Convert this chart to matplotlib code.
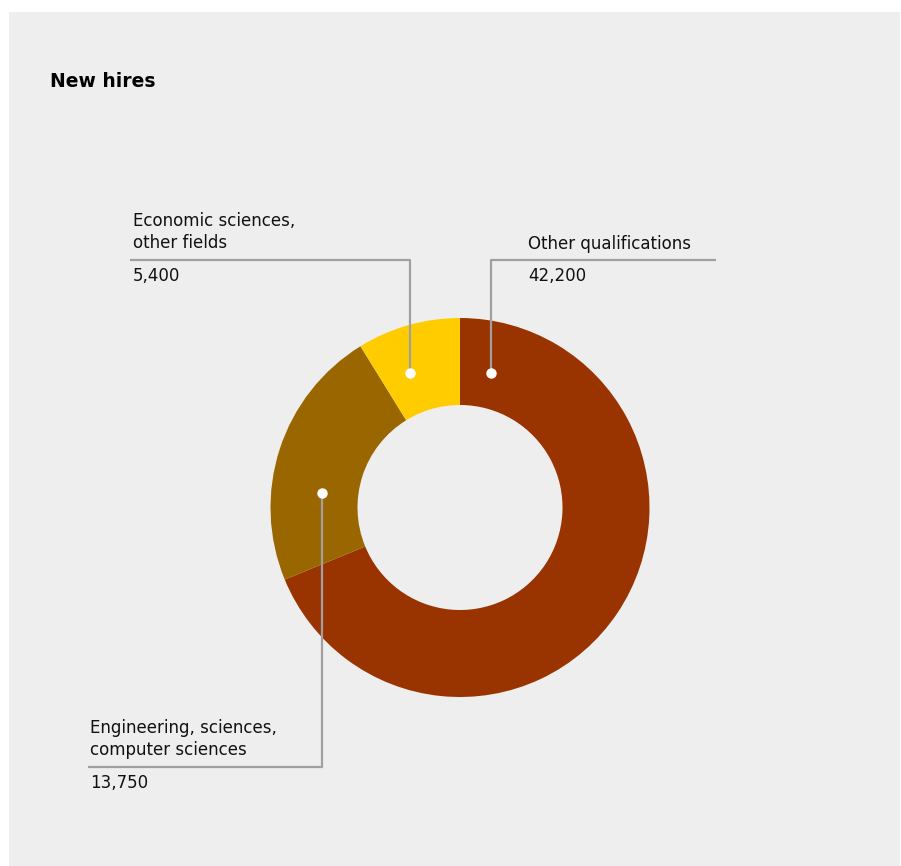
import matplotlib
matplotlib.use("Agg")
import matplotlib.pyplot as plt
from matplotlib.patches import Rectangle

# Data
categories = ["Other qualifications",
              "Engineering, sciences,\ncomputer sciences",
              "Economic sciences,\nother fields"]
values = [42200, 13750, 5400]
value_labels = ["42,200", "13,750", "5,400"]
colors = ["#993300", "#996600", "#FFCC00"]

W, H = 901, 866
fig = plt.figure(figsize=(W / 100, H / 100), dpi=100)
fig.patch.set_facecolor("white")
ax = fig.add_axes([0, 0, 1, 1])
ax.set_xlim(0, W)
ax.set_ylim(0, H)
ax.axis("off")


def Y(py):
    """Convert top-down pixel row to axes y."""
    return H - py


# grey panel
ax.add_patch(Rectangle((9, Y(866)), 891, 866 - 12, facecolor="#EEEEEE",
                       edgecolor="none", zorder=0))

ax.text(50, Y(87), "New hires", fontsize=13.5, fontweight="bold",
        ha="left", va="baseline", color="#000000")

# donut
cx, cy, R = 460, Y(507.5), 189.5
ax.pie(values, colors=colors, startangle=90, counterclock=False,
       center=(cx, cy), radius=R, frame=True,
       wedgeprops=dict(width=87, edgecolor="none", linewidth=0))
ax.set_xlim(0, W)
ax.set_ylim(0, H)
ax.set_aspect("equal")
ax.axis("off")

line_kw = dict(color="#A0A0A0", lw=1.6, zorder=3, solid_capstyle="butt")
dot_kw = dict(marker="o", ms=6.5, mfc="white", mec="white", zorder=4)
fs = 12
txt_kw = dict(fontsize=fs, ha="left", va="baseline", color="#111111",
              linespacing=1.3)

# Other qualifications leader
ax.plot([491, 491, 716], [Y(373), Y(260), Y(260)], **line_kw)
ax.plot([491], [Y(373)], **dot_kw)
ax.text(528, Y(249), categories[0], **txt_kw)
ax.text(528, Y(281), value_labels[0], **txt_kw)

# Economic sciences leader
ax.plot([410, 410, 130], [Y(373), Y(260), Y(260)], **line_kw)
ax.plot([410], [Y(373)], **dot_kw)
ax.text(133, Y(248), categories[2], **txt_kw)
ax.text(133, Y(281), value_labels[2], **txt_kw)

# Engineering leader
ax.plot([322, 322, 88], [Y(493), Y(767), Y(767)], **line_kw)
ax.plot([322], [Y(493)], **dot_kw)
ax.text(90, Y(755), categories[1], **txt_kw)
ax.text(90, Y(788), value_labels[1], **txt_kw)

fig.savefig("out.png", dpi=100, facecolor=fig.get_facecolor())
